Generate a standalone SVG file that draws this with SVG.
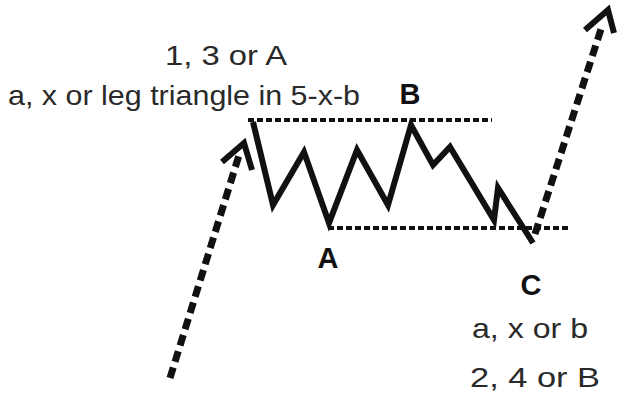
<svg xmlns="http://www.w3.org/2000/svg" width="617" height="400" viewBox="0 0 617 400">
<style>
.lbl{font-family:"Liberation Sans",Arial,sans-serif;fill:#2a2a2a;}
.big{font-size:28px;}
.cap{font-size:29px;fill:#111;font-weight:bold;}
.zig{fill:none;stroke:#111;stroke-width:6;stroke-linejoin:miter;stroke-linecap:butt;}
.dot{fill:none;stroke:#111;stroke-width:4;stroke-dasharray:6 3;}
.dash{fill:none;stroke:#111;stroke-width:7;stroke-dasharray:11 6;}
.head{fill:none;stroke:#111;stroke-width:6;stroke-linejoin:miter;}
</style>
<rect width="617" height="400" fill="#fff"/>
<g id="connectors">
<line class="dot" x1="248" y1="120" x2="492" y2="120"/>
<line class="dot" x1="328" y1="228" x2="568" y2="228"/>
<line class="dash" x1="170" y1="378" x2="240" y2="152"/>
<polyline class="head" points="222,162 244,143 252,170"/>
<line class="dash" x1="535" y1="234" x2="602" y2="26"/>
<polyline class="head" points="585,30 608,10 614,33"/>
</g>
<g id="wave">
<polyline class="zig" points="253,122 273,205 304,152 329,223 357,150 388,205 411,125 433,165 450,147 494,220 498,188 533,243"/>
</g>
<g id="label-top">
<text class="lbl big" x="165" y="65" textLength="122" lengthAdjust="spacingAndGlyphs">1, 3 or A</text>
<text class="lbl big" x="8" y="105" textLength="352" lengthAdjust="spacingAndGlyphs">a, x or leg triangle in 5-x-b</text>
</g>
<g id="label-B"><text class="lbl cap" x="410" y="104" text-anchor="middle">B</text></g>
<g id="label-A"><text class="lbl cap" x="328" y="268" text-anchor="middle">A</text></g>
<g id="label-C"><text class="lbl cap" x="531" y="295" text-anchor="middle">C</text></g>
<g id="label-bottom">
<text class="lbl big" x="472" y="338" textLength="116" lengthAdjust="spacingAndGlyphs">a, x or b</text>
<text class="lbl big" x="470" y="387" textLength="130" lengthAdjust="spacingAndGlyphs">2, 4 or B</text>
</g>
</svg>
